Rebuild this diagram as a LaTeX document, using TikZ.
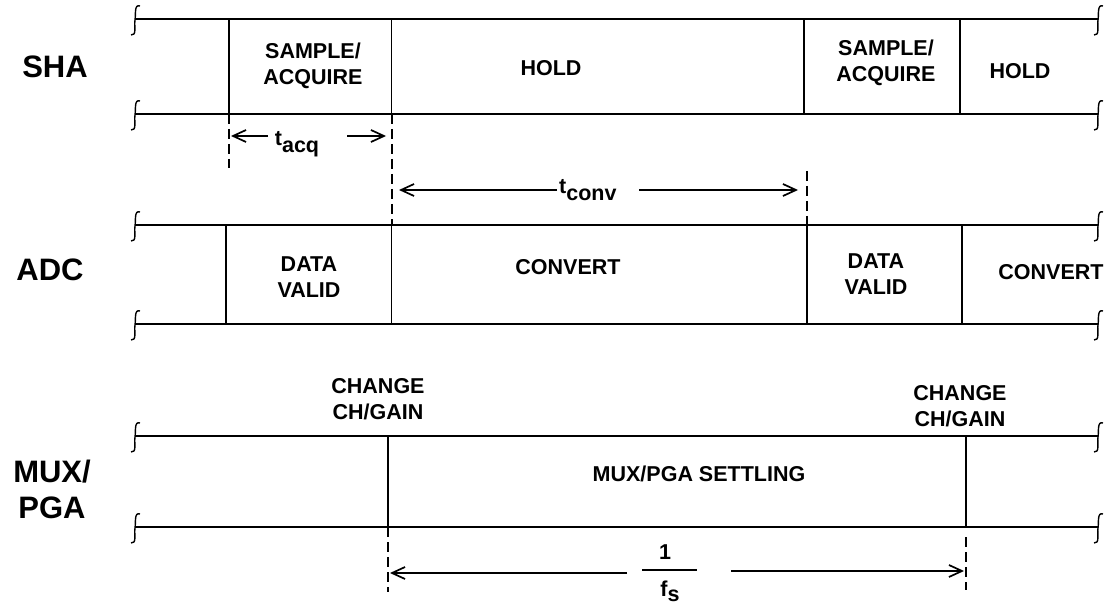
\documentclass[tikz,border=0pt]{standalone}
\usepackage{fontspec}
\setmainfont{Liberation Sans}
\usetikzlibrary{arrows.meta}
\tikzset{
  rail/.style={line width=1.8bp},
  sepline/.style={line width=1.5bp},
  guide/.style={line width=2bp, dash pattern=on 10bp off 5bp},
  dim/.style={line width=1.7bp, -{Straight Barb[length=13bp,width=12bp,line width=1.7bp]}},
  lbl/.style={font=\fontsize{21.5bp}{26bp}\selectfont\bfseries, align=center, inner sep=0pt},
  rowlbl/.style={font=\fontsize{31bp}{36bp}\selectfont\bfseries, align=center, inner sep=0pt},
  brk/.pic={\draw[line width=1.4bp] (5,-13) .. controls (-1,-15) and (1,-5) .. (0,1) .. controls (-1,7) and (2,17) .. (-4,16);}
}
\newcommand{\lowsub}[1]{\raisebox{-7bp}{#1}}
\begin{document}
\begin{tikzpicture}[x=1bp,y=-1bp]
\useasboundingbox (0,0) rectangle (1104,607);
% rails with break marks
\foreach \y/\n in {19/st,114/sb,225/at,324/ab,436/mt,527/mb}{
  \coordinate (\n L) at (135,\y);
  \coordinate (\n R) at (1098,\y);
  \draw[rail] (\n L) -- (\n R);
  \pic at (\n L) {brk};
  \pic at (\n R) {brk};
}
% SHA separators
\foreach \x/\n in {229/s1,391.5/s2,804/s3,960/s4}{
  \draw[sepline] (\x,19) coordinate (\n t) -- (\x,114) coordinate (\n b);
}
% ADC separators
\foreach \x/\n in {226/a1,391.5/a2,807/a3,962/a4}{
  \draw[sepline] (\x,225) coordinate (\n t) -- (\x,324) coordinate (\n b);
}
% MUX separators
\foreach \x/\n in {388/m1,966/m2}{
  \draw[sepline] (\x,436) coordinate (\n t) -- (\x,527) coordinate (\n b);
}
% row labels
\node[rowlbl] (sha) at (55,67) {SHA};
\node[rowlbl] (adc) at (50,270) {ADC};
\node[rowlbl] (mux) at (52,489) {MUX/\\PGA};
% SHA texts
\node[lbl] (sa1) at (313,66) {SAMPLE/\\ACQUIRE};
\node[lbl] (h1) at (551,68) {HOLD};
\node[lbl] (sa2) at (886,63) {SAMPLE/\\ACQUIRE};
\node[lbl] (h2) at (1020,71) {HOLD};
% ADC texts
\node[lbl] (dv1) at (309,277) {DATA\\VALID};
\node[lbl] (cv1) at (568,267) {CONVERT};
\node[lbl] (dv2) at (876,274) {DATA\\VALID};
\node[lbl] (cv2) at (1051,272) {CONVERT};
% MUX texts
\node[lbl] (cg1) at (378,399) {CHANGE\\CH/GAIN};
\node[lbl] (cg2) at (960,406) {CHANGE\\CH/GAIN};
\node[lbl] (mps) at (699,474) {MUX/PGA SETTLING};
% dashed guides
\draw[guide] (s1b) -- (229,168) coordinate (g1);
\draw[guide] (s2b) -- (a2t);
\draw[guide] (807,171) coordinate (g3) -- (a3t);
\draw[guide] (m1b) -- (388,592) coordinate (g4);
\draw[guide] (966,537) coordinate (g5) -- (966,590);
% t_acq
\node[lbl, anchor=base] (tacq) at (297,146) {t\lowsub{acq}};
\coordinate (tacqL) at (268,136);
\coordinate (tacqR) at (347,136);
\draw[dim] (tacqL) -- (231,136);
\draw[dim] (tacqR) -- (386,136);
% t_conv
\node[lbl, anchor=base west] (tconv) at (559,194) {t\lowsub{conv}};
\coordinate (tcL) at (557,190);
\coordinate (tcR) at (639,190);
\draw[dim] (tcL) -- (399,190);
\draw[dim] (tcR) -- (798,190);
% 1/fs
\node[lbl] (one) at (665,552) {1};
\node[lbl, anchor=base] (fs) at (670,596) {f\raisebox{-5bp}{s}};
\draw[line width=1.6bp] (642,570) coordinate (barL) -- (697,570) coordinate (barR);
\coordinate (fL) at (627,573);
\coordinate (fR) at (731,571);
\draw[dim] (fL) -- (390,573);
\draw[dim] (fR) -- (964,571);
\end{tikzpicture}
\end{document}
